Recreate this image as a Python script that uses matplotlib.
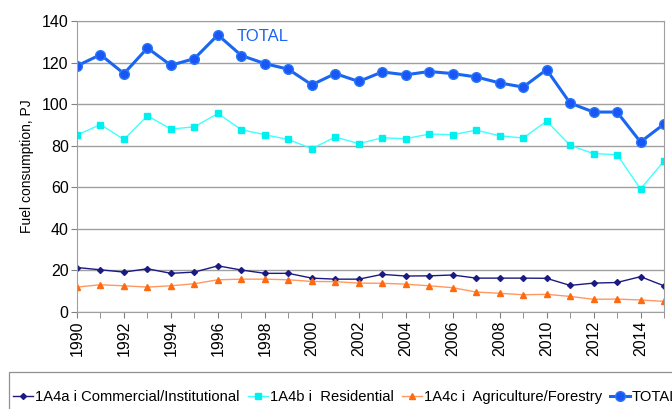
import matplotlib.pyplot as plt
import matplotlib.patches as mpatches
import numpy as np

plt.rcParams['font.family'] = ['Liberation Sans', 'DejaVu Sans']

years = list(range(1990, 2016))
commercial = [21.4, 20.3, 19.2, 20.8, 18.6, 19.2, 22.2, 20.2, 18.6, 18.6, 16.3, 15.8, 15.8,
              18.1, 17.3, 17.4, 17.8, 16.3, 16.3, 16.3, 16.2, 12.8, 13.9, 14.2, 17.0, 12.6]
residential = [85.1, 90.2, 83.0, 94.4, 88.0, 89.1, 95.5, 87.7, 85.3, 83.0, 78.6, 84.2, 81.0,
               83.8, 83.4, 85.6, 85.3, 87.5, 84.8, 83.7, 91.8, 80.2, 76.2, 75.7, 59.2, 72.6]
agriculture = [12.0, 13.1, 12.6, 12.0, 12.6, 13.6, 15.5, 15.8, 15.8, 15.5, 14.7, 14.6, 13.9,
               13.8, 13.4, 12.6, 11.7, 9.6, 9.0, 8.3, 8.5, 7.5, 6.1, 6.2, 5.8, 5.1]
total = [118.4, 123.8, 114.7, 127.0, 118.7, 121.9, 133.3, 123.4, 119.5, 116.8, 109.3, 114.7, 110.9,
         115.5, 114.1, 115.7, 114.7, 113.1, 110.2, 108.2, 116.6, 100.5, 96.2, 96.2, 81.8, 90.4]

W, H = 672, 409
fig = plt.figure(figsize=(W / 100, H / 100), dpi=100)
ax = fig.add_axes([77 / W, 1 - 312 / H, (664 - 77) / W, (312 - 21) / H])

ax.plot(years, commercial, color='#1a1a80', marker='D', markersize=3, linewidth=1,
        label='1A4a i Commercial/Institutional')
ax.plot(years, residential, color='#40ffff', marker='s', markersize=5, markerfacecolor='#00f0f0',
        markeredgecolor='#00f0f0', linewidth=1, label='1A4b i  Residential')
ax.plot(years, agriculture, color='#ff9960', marker='^', markersize=5, markerfacecolor='#ff6a10',
        markeredgecolor='#ff6a10', linewidth=1, label='1A4c i  Agriculture/Forestry')
ax.plot(years, total, color='#1a66f0', marker='o', markersize=7, markerfacecolor='#1a55f5',
        markeredgecolor='#2a7af5', linewidth=2.2, label='TOTAL')

ax.text(1996.8, 130.5, 'TOTAL', color='#1a66f0', fontsize=12)

ax.set_xlim(1990, 2015)
ax.set_ylim(0, 140)
ax.set_yticks(np.arange(0, 141, 20))
ax.set_xticks(range(1990, 2016, 2))
ax.set_xticks(range(1990, 2016), minor=True)
ax.tick_params(axis='x', labelrotation=90, labelsize=11.5, length=4, color='#808080', pad=2)
ax.tick_params(axis='x', which='minor', length=4, color='#808080')
ax.tick_params(axis='y', labelsize=11.5, length=4, color='#808080', pad=2)
ax.set_ylabel('Fuel consumption, PJ', fontsize=10, labelpad=6)
ax.grid(axis='y', color='#a0a0a0', linewidth=1)
ax.set_axisbelow(True)
for s in ax.spines.values():
    s.set_color('#a0a0a0')

# legend box runs off the right and bottom edge, as in the original
fig.patches.append(mpatches.Rectangle((9 / W, -0.05), 1.0, 1 - 372 / H + 0.05,
                                      transform=fig.transFigure, fill=False,
                                      edgecolor='#909090', linewidth=0.9))
leg = fig.legend(loc='center left', bbox_to_anchor=(13 / W, 1 - 397 / H), ncol=4,
                 fontsize=10.6, frameon=False, borderaxespad=0, borderpad=0,
                 handlelength=1.35, handletextpad=0.15, columnspacing=0.55)

fig.savefig('out.png', dpi=100)
